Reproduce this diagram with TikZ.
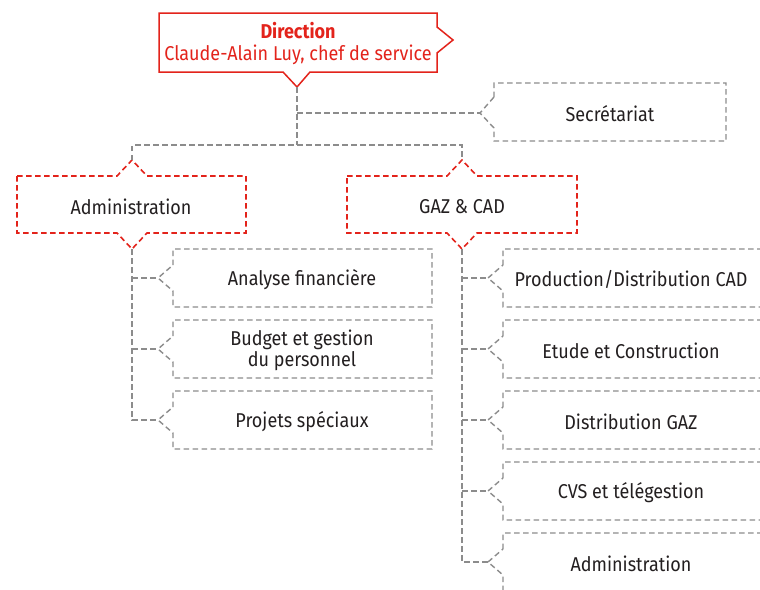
\documentclass[tikz,border=0pt]{standalone}
\usepackage{fontspec}
\setmainfont{Fira Sans}[FakeStretch=0.9]
\definecolor{dred}{HTML}{E3231B}
\definecolor{lgray}{HTML}{8C8C8C}
\definecolor{txt}{HTML}{231F20}
\begin{document}
\begin{tikzpicture}[x=1pt,y=-1pt,
  solidred/.style={draw=dred,line width=1.5pt,line join=miter},
  dashred/.style={draw=dred,line width=1.6pt,dash pattern=on 5.5pt off 3.5pt},
  dashgray/.style={draw=lgray,line width=1.4pt,dash pattern=on 5.5pt off 3.5pt},
  lbl/.style={font=\fontsize{20}{21.5}\selectfont,text=txt,align=center,inner sep=0pt,yshift=-1.5pt},
  redlbl/.style={font=\fontsize{20}{21.5}\selectfont,text=dred,align=center,inner sep=0pt},
]
\clip (0,0) rectangle (760,589);
\fill[white] (0,0) rectangle (760,589);

% Direction
\draw[solidred] (159,13) -- (437,13) -- (437,27) -- (453,40) -- (437,53) -- (437,72)
  -- (310,72) -- (297,87) -- (283,72) -- (159,72) -- cycle;
\node[redlbl,font=\fontsize{20}{21.5}\selectfont\bfseries] (dirT) at (298,31) {Direction};
\node[redlbl] (dirN) at (298,55) {Claude-Alain Luy, chef de service};
\coordinate (dirTip) at (297,87);

% Secretariat
\draw[dashgray] (494,97) -- (494,83) -- (726,83) -- (726,141) -- (494,141) -- (494,128) -- (480,113) -- cycle;
\node[lbl] (sec) at (610,112) {Secrétariat};
\coordinate (secTip) at (480,113);

% Administration / GAZ boxes
\draw[dashred] (17,176) -- (117,176) -- (132,160) -- (147,176) -- (246,176) -- (246,233)
  -- (147,233) -- (132,249) -- (117,233) -- (17,233) -- cycle;
\node[lbl] (adm) at (131,205) {Administration};
\coordinate (admTop) at (132,160);
\coordinate (admBot) at (132,249);

\draw[dashred] (347,176) -- (447,176) -- (462,160) -- (477,176) -- (577,176) -- (577,233)
  -- (477,233) -- (462,249) -- (447,233) -- (347,233) -- cycle;
\node[lbl] (gaz) at (462,205) {GAZ \& CAD};
\coordinate (gazTop) at (462,160);
\coordinate (gazBot) at (462,249);

% trunk connectors
\coordinate (hL) at (132,145);
\coordinate (hR) at (462,145);
\draw[dashgray] (dirTip) -- (dirTip |- hL);
\draw[dashgray] (dirTip |- secTip) -- (secTip);
\draw[dashgray] (admTop) -- (hL) -- (hR) -- (gazTop);

% Administration children
\foreach \n/\c/\txt in {a1/278/{Analyse financière},a2/349/{Budget et gestion\\du personnel},a3/420/{Projets spéciaux}}{
  \draw[dashgray] (173,\c-13) -- (173,\c-29) -- (432,\c-29) -- (432,\c+29) -- (173,\c+29) -- (173,\c+13) -- (158,\c) -- cycle;
  \node[lbl] (\n) at (302,\c) {\txt};
  \coordinate (\n tip) at (158,\c);
}
\draw[dashgray] (admBot) |- (a3tip);
\draw[dashgray] (admBot |- a1tip) -- (a1tip);
\draw[dashgray] (admBot |- a2tip) -- (a2tip);

% GAZ children
\foreach \n/\c/\txt in {g1/278/{Production/Distribution CAD},g2/349/{Etude et Construction},g3/420/{Distribution GAZ},g4/491/{CVS et télégestion},g5/562/{Administration}}{
  \draw[dashgray] (503,\c-13) -- (503,\c-29) -- (790,\c-29) -- (790,\c+29) -- (503,\c+29) -- (503,\c+13) -- (488,\c) -- cycle;
  \node[lbl] (\n) at (631,\c) {\txt};
  \coordinate (\n tip) at (488,\c);
}
\draw[dashgray] (gazBot) |- (g5tip);
\foreach \n in {g1,g2,g3,g4}{
  \draw[dashgray] (gazBot |- \n tip) -- (\n tip);
}
\end{tikzpicture}
\end{document}
